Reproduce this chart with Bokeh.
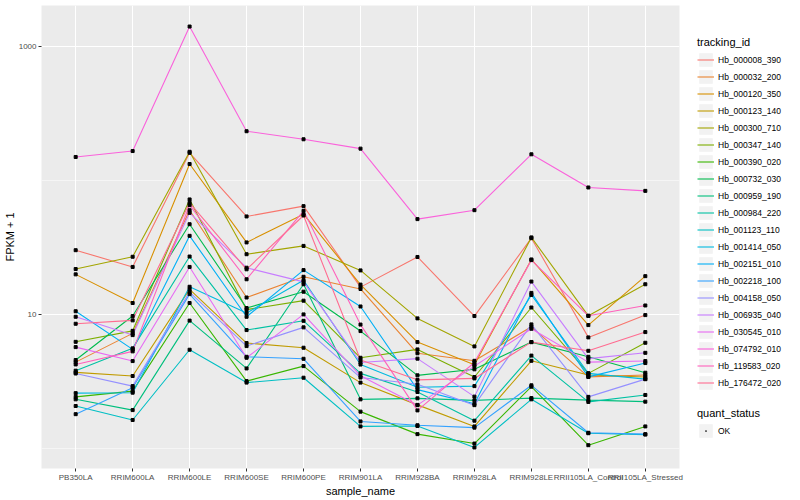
from bokeh.plotting import figure
from bokeh.models import (FactorRange, Range1d, FixedTicker, Legend, LegendItem,
                          ColumnDataSource, BasicTickFormatter)
from bokeh.layouts import row
from bokeh.embed import file_html
from bokeh.resources import INLINE
import numpy as np

sample_names = ["PB350LA", "RRIM600LA", "RRIM600LE", "RRIM600SE", "RRIM600PE",
                "RRIM901LA", "RRIM928BA", "RRIM928LA", "RRIM928LE",
                "RRII105LA_Control", "RRII105LA_Stressed"]

tracking_ids = ["Hb_000008_390", "Hb_000032_200", "Hb_000120_350", "Hb_000123_140",
                "Hb_000300_710", "Hb_000347_140", "Hb_000390_020", "Hb_000732_030",
                "Hb_000959_190", "Hb_000984_220", "Hb_001123_110", "Hb_001414_050",
                "Hb_002151_010", "Hb_002218_100", "Hb_004158_050", "Hb_006935_040",
                "Hb_030545_010", "Hb_074792_010", "Hb_119583_020", "Hb_176472_020"]

colors = ["#F8766D", "#EA8331", "#D89000", "#C09B00", "#A3A500", "#7CAE00", "#39B600",
          "#00BB4E", "#00BF7D", "#00C1A3", "#00BFC4", "#00BAE0", "#00B0F6", "#35A2FF",
          "#9590FF", "#C77CFF", "#E76BF3", "#FA62DB", "#FF62BC", "#FF6C91"]

# FPKM + 1 values per gene, one per sample
hb_000008_390 = [30.0, 22.5, 160, 53.6, 64.0, 15.9, 26.7, 9.67, 36.9, 6.70, 9.83]
hb_000032_200 = [4.38, 7.18, 59.7, 13.3, 19.0, 15.4, 5.10, 4.48, 8.04, 3.40, 3.51]
hb_000120_350 = [19.8, 12.1, 132, 34.3, 55.7, 16.6, 6.18, 4.19, 25.6, 8.28, 19.2]
hb_000123_140 = [3.67, 3.45, 15.3, 6.08, 5.61, 3.08, 2.10, 1.45, 4.48, 3.51, 3.39]
hb_000300_710 = [21.7, 26.8, 163, 28.0, 32.3, 21.2, 9.29, 5.74, 37.4, 9.71, 16.7]
hb_000347_140 = [6.21, 7.50, 71.8, 10.8, 12.6, 4.72, 5.45, 3.39, 11.2, 3.61, 6.11]
hb_000390_020 = [2.41, 2.66, 12.1, 3.16, 4.09, 1.87, 1.27, 1.08, 2.87, 1.05, 1.45]
hb_000732_030 = [4.54, 9.67, 46.9, 11.1, 14.7, 7.47, 3.49, 3.87, 6.18, 4.80, 3.65]
hb_000959_190 = [2.31, 1.92, 8.94, 3.93, 16.7, 2.31, 2.35, 2.27, 2.36, 2.28, 2.22]
hb_000984_220 = [3.78, 5.55, 26.9, 7.60, 8.91, 3.61, 2.62, 1.60, 4.90, 2.21, 2.49]
hb_001123_110 = [2.06, 1.62, 5.42, 3.08, 3.35, 1.45, 1.46, 1.01, 2.31, 1.29, 1.26]
hb_001414_050 = [2.57, 2.59, 16.0, 10.2, 17.9, 4.20, 2.84, 2.90, 13.9, 3.61, 3.27]
hb_002151_010 = [10.5, 5.45, 38.4, 9.55, 21.3, 11.4, 2.73, 2.14, 14.4, 3.40, 4.31]
hb_002218_100 = [1.79, 2.82, 14.1, 4.80, 4.64, 1.58, 1.48, 1.42, 2.94, 1.30, 1.27]
hb_004158_050 = [3.60, 2.90, 14.6, 5.77, 7.96, 3.36, 2.99, 2.09, 8.38, 2.41, 3.27]
hb_006935_040 = [9.55, 6.97, 57.0, 22.2, 17.4, 4.35, 4.65, 2.42, 17.5, 4.65, 5.14]
hb_030545_010 = [5.67, 4.46, 22.5, 4.72, 9.95, 3.46, 2.09, 4.09, 7.77, 4.38, 4.46]
hb_074792_010 = [149, 165, 1403, 232, 202, 172, 51.2, 59.7, 156, 88.2, 83.2]
hb_119583_020 = [4.21, 5.27, 65.1, 18.2, 59.0, 8.35, 1.91, 4.35, 25.3, 9.71, 11.6]
hb_176472_020 = [8.47, 8.98, 67.7, 21.6, 54.5, 4.54, 3.23, 3.31, 6.18, 5.32, 7.34]

series = [hb_000008_390, hb_000032_200, hb_000120_350, hb_000123_140, hb_000300_710,
          hb_000347_140, hb_000390_020, hb_000732_030, hb_000959_190, hb_000984_220,
          hb_001123_110, hb_001414_050, hb_002151_010, hb_002218_100, hb_004158_050,
          hb_006935_040, hb_030545_010, hb_074792_010, hb_119583_020, hb_176472_020]

quant_status = ["OK"]

FONT = "Liberation Sans"
TOTAL_H = 498

all_vals = np.log10(np.array(series, dtype=float))
lo, hi = all_vals.min(), all_vals.max()
pad = 0.05 * (hi - lo)

p = figure(x_range=FactorRange(factors=sample_names, range_padding=0.1,
                               range_padding_units="absolute"),
           y_axis_type="log", y_range=Range1d(10 ** (lo - pad), 10 ** (hi + pad)),
           frame_width=638, frame_height=463, output_backend="svg", toolbar_location=None,
           min_border_left=37, min_border_right=8, min_border_top=5, min_border_bottom=0)

p.background_fill_color = "#EBEBEB"
p.border_fill_color = "white"
p.outline_line_color = None

p.xgrid.grid_line_color = "white"
p.xgrid.grid_line_width = 1.1
p.ygrid.grid_line_color = "white"
p.ygrid.grid_line_width = 1.1
p.ygrid.minor_grid_line_color = "white"
p.ygrid.minor_grid_line_width = 0.5

p.yaxis.ticker = FixedTicker(ticks=[10, 1000], minor_ticks=[1, 100])
p.yaxis.formatter = BasicTickFormatter(use_scientific=False)

for ax in (p.xaxis[0], p.yaxis[0]):
    ax.axis_line_color = None
    ax.major_tick_line_color = "#333333"
    ax.major_tick_in = 0
    ax.major_tick_out = 3
    ax.minor_tick_line_color = None
    ax.major_label_text_font = FONT
    ax.major_label_text_font_size = "8px"
    ax.major_label_text_color = "#4D4D4D"
    ax.major_label_standoff = 1
    ax.axis_label_text_font = FONT
    ax.axis_label_text_font_size = "11px"
    ax.axis_label_text_font_style = "normal"
    ax.axis_label_text_color = "black"
    ax.axis_label_standoff = 0

p.xaxis.axis_label = "sample_name"
p.yaxis.axis_label = "FPKM + 1"

all_x, all_y = [], []
for col, vals in zip(colors, series):
    src = ColumnDataSource(dict(x=sample_names, y=vals))
    p.line("x", "y", source=src, line_color=col, line_width=1.1)
    all_x.extend(sample_names)
    all_y.extend(vals)

p.scatter(all_x, all_y, marker="square", size=3, fill_color="black", line_color="black")

# separate panel that holds the two legends (ggplot-style guide area)
lf = figure(width=102, height=TOTAL_H, x_axis_type=None, y_axis_type=None,
            x_range=Range1d(0, 1), y_range=Range1d(0, 1),
            output_backend="svg", toolbar_location=None,
            min_border_left=0, min_border_right=0, min_border_top=0, min_border_bottom=0)
lf.outline_line_color = None
lf.xgrid.visible = False
lf.ygrid.visible = False
lf.background_fill_color = "white"
lf.border_fill_color = "white"

# key renderers live outside the visible range: only their legend keys show
key_bg = lf.quad(left=[5], right=[6], top=[6], bottom=[5], fill_color="#F2F2F2", line_color=None)
items = []
for tid, col in zip(tracking_ids, colors):
    r = lf.line(x=[5, 6], y=[5, 6], line_color=col, line_width=1.1)
    items.append(LegendItem(label=tid, renderers=[key_bg, r]))
dot = lf.scatter(x=[5], y=[5], marker="dot", size=3, line_color="black",
                 fill_color="black", line_width=3)


def style_legend(lg):
    lg.title_text_font = FONT
    lg.title_text_font_size = "11px"
    lg.title_text_font_style = "normal"
    lg.title_text_color = "black"
    lg.title_standoff = 3
    lg.label_text_font = FONT
    lg.label_text_font_size = "8.5px"
    lg.label_text_color = "black"
    lg.glyph_width = 17
    lg.glyph_height = 17
    lg.label_height = 17
    lg.label_standoff = 4
    lg.spacing = 0
    lg.padding = 0
    lg.margin = 0
    lg.border_line_color = None
    lg.background_fill_alpha = 0


legend1 = Legend(items=items, title="tracking_id", location=(10, 76))
style_legend(legend1)
lf.add_layout(legend1, "center")

legend2 = Legend(items=[LegendItem(label=quant_status[0], renderers=[key_bg, dot])],
                 title="quant_status", location=(10, 28))
style_legend(legend2)
lf.add_layout(legend2, "center")

layout = row(p, lf)
open("out.html", "w").write(file_html(layout, INLINE))
